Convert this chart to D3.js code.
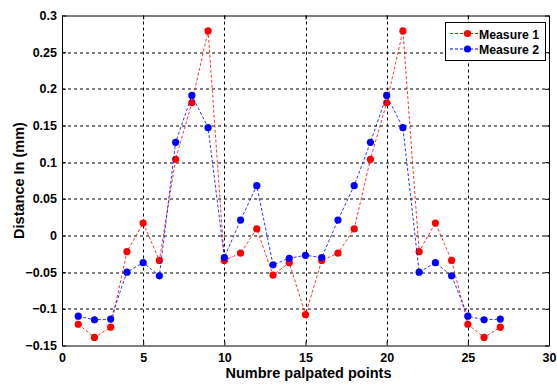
<!DOCTYPE html>
<html>
<head>
<meta charset="utf-8">
<script src="https://cdn.jsdelivr.net/npm/d3@7"></script>
<style>
    body { margin: 0; background: #fff; }
    svg { display: block; font-family: "Liberation Sans", Arial, sans-serif; }
    .grid line { stroke: #000; stroke-dasharray: 3,3; stroke-width: 1; }
    .tick-label { font-size: 12.5px; font-weight: bold; fill: #000; }
    .title { font-size: 14.5px; font-weight: bold; fill: #000; }
    .legend text { font-size: 13.5px; font-weight: bold; fill: #000; }
</style>
</head>
<body>
<div id="chart"></div>
<script>
(function (d3) {
    'use strict';

    var points = d3.range(1, 28);
    var measure1 = [-0.121, -0.139, -0.125, -0.022, 0.017, -0.034, 0.104, 0.181, 0.279,
        -0.034, -0.024, 0.009, -0.054, -0.037, -0.108, -0.034, -0.024, 0.009,
        0.104, 0.181, 0.279, -0.022, 0.017, -0.034, -0.121, -0.139, -0.125];
    var measure2 = [-0.110, -0.115, -0.114, -0.050, -0.037, -0.055, 0.127, 0.191, 0.147,
        -0.030, 0.021, 0.068, -0.040, -0.031, -0.027, -0.030, 0.021, 0.068,
        0.127, 0.191, 0.147, -0.050, -0.037, -0.055, -0.110, -0.115, -0.114];
    var xTicks = [0, 5, 10, 15, 20, 25, 30];
    var yTicks = [-0.15, -0.1, -0.05, 0, 0.05, 0.1, 0.15, 0.2, 0.25, 0.3];
    var seriesNames = ['Measure 1', 'Measure 2'];
    var seriesColors = ['#ff0000', '#0000ff'];

    var width = 557, height = 387;
    var margin = {top: 15.5, right: 8, bottom: 41.5, left: 62};
    var w = width - margin.left - margin.right;
    var h = height - margin.top - margin.bottom;

    var svg = d3.select('#chart').append('svg')
        .attr('width', width)
        .attr('height', height)
    ;

    var g = svg.append('g')
        .attr('transform', translate(margin.left, margin.top))
    ;

    var x = d3.scaleLinear().domain([0, 30]).range([0, w]);
    var y = d3.scaleLinear().domain([-0.15, 0.3]).range([h, 0]);

    // dashed grid
    var grid = g.append('g').attr('class', 'grid');
    grid.selectAll('.gx').data(xTicks.slice(1, -1)).enter()
        .append('line')
        .attr('x1', function (d) { return Math.round(x(d)) + 0.5; })
        .attr('x2', function (d) { return Math.round(x(d)) + 0.5; })
        .attr('y1', 0).attr('y2', h)
    ;
    grid.selectAll('.gy').data(yTicks.slice(1, -1)).enter()
        .append('line')
        .attr('y1', function (d) { return Math.round(y(d)) + 0.5; })
        .attr('y2', function (d) { return Math.round(y(d)) + 0.5; })
        .attr('x1', 0).attr('x2', w)
    ;

    // axes: inward ticks on all four sides
    var fmt = function (d) { return d3.format('')(+d.toFixed(2)); };
    g.append('g').attr('transform', translate(0, h))
        .call(d3.axisBottom(x).tickValues(xTicks).tickSizeInner(-4).tickSizeOuter(0).tickFormat(fmt))
        .call(styleAxis)
        .selectAll('text').attr('dy', '1.05em')
    ;
    g.append('g').attr('transform', translate(0, 0))
        .call(d3.axisTop(x).tickValues(xTicks).tickSizeInner(-4).tickSizeOuter(0).tickFormat(''))
        .call(styleAxis)
    ;
    g.append('g')
        .call(d3.axisLeft(y).tickValues(yTicks).tickSizeInner(-4).tickSizeOuter(0).tickFormat(fmt))
        .call(styleAxis)
        .selectAll('text').attr('x', -5)
    ;
    g.append('g').attr('transform', translate(w, 0))
        .call(d3.axisRight(y).tickValues(yTicks).tickSizeInner(-4).tickSizeOuter(0).tickFormat(''))
        .call(styleAxis)
    ;

    // series
    var series = [measure1, measure2];
    var line = d3.line()
        .x(function (d, i) { return x(points[i]); })
        .y(function (d) { return y(d); })
    ;

    series.forEach(function (values, k) {
        var s = g.append('g');
        s.append('path')
            .datum(values)
            .attr('d', line)
            .attr('fill', 'none')
            .attr('stroke', seriesColors[k])
            .attr('stroke-width', 1)
            .attr('stroke-dasharray', '3,2')
            .attr('opacity', 0.8)
        ;
        s.selectAll('circle').data(values).enter()
            .append('circle')
            .attr('cx', function (d, i) { return x(points[i]); })
            .attr('cy', function (d) { return y(d); })
            .attr('r', 3.6)
            .attr('fill', seriesColors[k])
        ;
    });

    // axis titles
    svg.append('text')
        .attr('class', 'title')
        .attr('x', margin.left + w / 2 + 3)
        .attr('y', 378)
        .attr('text-anchor', 'middle')
        .text('Numbre palpated points')
    ;
    svg.append('text')
        .attr('class', 'title')
        .attr('transform', translate(23.5, margin.top + h / 2) + ' rotate(-90)')
        .attr('text-anchor', 'middle')
        .text('Distance In (mm)')
    ;

    // legend
    var legend = svg.append('g').attr('class', 'legend');
    legend.append('rect')
        .attr('x', 445.5).attr('y', 22.5)
        .attr('width', 100).attr('height', 38)
        .attr('fill', '#fff')
        .attr('stroke', '#000')
    ;
    seriesNames.forEach(function (name, k) {
        var ly = 33.5 + k * 15.5;
        legend.append('line')
            .attr('x1', 450).attr('x2', 478)
            .attr('y1', ly).attr('y2', ly)
            .attr('stroke', seriesColors[k])
            .attr('stroke-dasharray', '3,2')
        ;
        legend.append('circle')
            .attr('cx', 467.5).attr('cy', ly).attr('r', 3.6)
            .attr('fill', seriesColors[k])
        ;
        legend.append('text')
            .attr('x', 479).attr('y', ly + 5)
            .attr('textLength', 60)
            .attr('lengthAdjust', 'spacingAndGlyphs')
            .text(name)
        ;
    });

    function styleAxis(sel) {
        sel.select('.domain').attr('stroke', '#000');
        sel.selectAll('.tick line').attr('stroke', '#000');
        sel.selectAll('text').attr('class', 'tick-label').attr('font-size', null).attr('font-family', null);
    }

    function translate(a, b) {
        return 'translate(' + a + ',' + b + ')';
    }
})(d3);
</script>
</body>
</html>
